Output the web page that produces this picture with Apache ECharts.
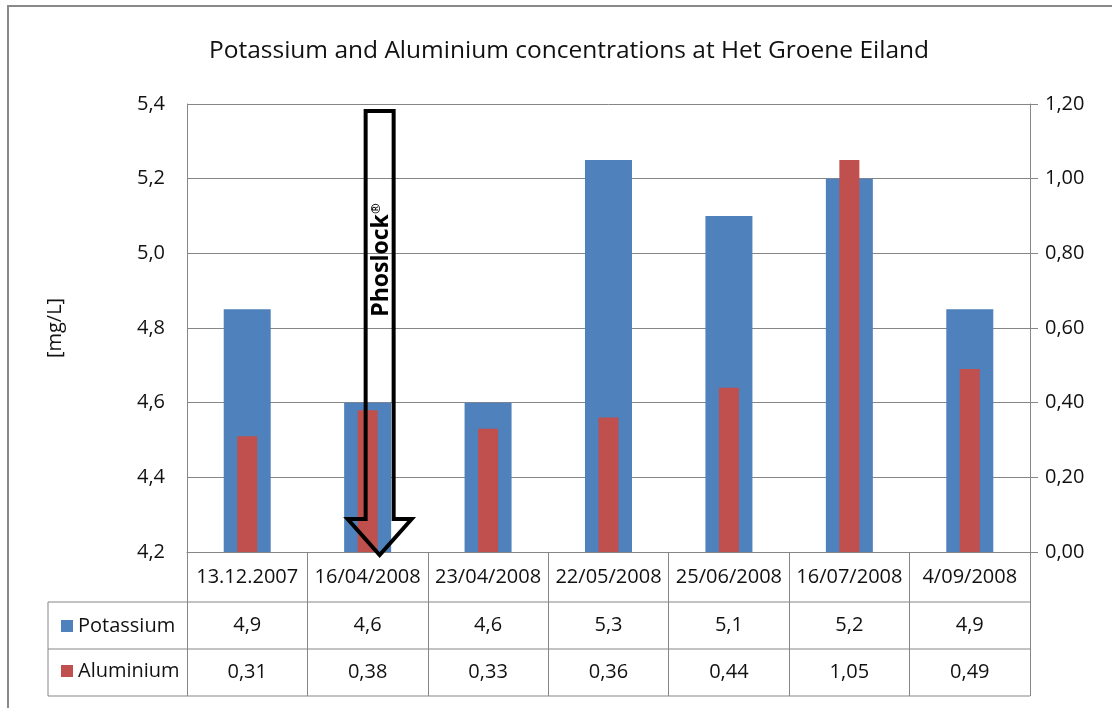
<!DOCTYPE html>
<html>
<head>
<meta charset="utf-8">
<script src="https://cdn.jsdelivr.net/npm/echarts@6/dist/echarts.min.js"></script>
<style>html,body{margin:0;padding:0;background:#fff}#c{width:1112px;height:708px}</style>
</head>
<body>
<div id="c"></div>
<script>
var categories = ['13.12.2007','16/04/2008','23/04/2008','22/05/2008','25/06/2008','16/07/2008','4/09/2008'];
var potassium = [4.85, 4.6, 4.6, 5.25, 5.1, 5.2, 4.85];
var aluminium = [0.31, 0.38, 0.33, 0.36, 0.44, 1.05, 0.49];
var potassiumLabels = ['4,9','4,6','4,6','5,3','5,1','5,2','4,9'];
var aluminiumLabels = ['0,31','0,38','0,33','0,36','0,44','1,05','0,49'];
var leftTicks = {min: 4.2, max: 5.4, interval: 0.2};
var rightTicks = {min: 0, max: 1.2, interval: 0.2};

var FONT = 'Open Sans';
var GRID = '#868686';
var chart = echarts.init(document.getElementById('c'), null, {renderer: 'canvas'});

function rowAxis(labels, margin, show) {
  return {
    type: 'category', gridIndex: 0, position: 'bottom', data: categories,
    axisLine: {show: false}, axisTick: {show: false}, splitLine: {show: false},
    axisLabel: {show: show, interval: 0, margin: margin, fontFamily: FONT, fontSize: 20, color: '#111',
      formatter: function (v, i) { return labels ? labels[i] : v; }}
  };
}

var option = {
  animation: false,
  backgroundColor: '#fff',
  title: {
    text: 'Potassium and Aluminium concentrations at Het Groene Eiland',
    left: 564, top: 34, textAlign: 'center',
    textStyle: {fontFamily: FONT, fontSize: 24.5, fontWeight: 'normal', color: '#111'}
  },
  legend: {
    orient: 'vertical', left: 56, top: 611, itemGap: 25,
    itemWidth: 12, itemHeight: 12, icon: 'rect',
    data: ['Potassium', 'Aluminium'],
    textStyle: {fontFamily: FONT, fontSize: 20, lineHeight: 20, color: '#111'}
  },
  grid: {left: 187, right: 82, top: 104, bottom: 156, containLabel: false},
  xAxis: [
    {
      type: 'category', gridIndex: 0, position: 'bottom', data: categories,
      axisLine: {show: true, lineStyle: {color: GRID, width: 1}},
      axisTick: {show: true, interval: 0, length: 144, lineStyle: {color: GRID, width: 1}},
      axisLabel: {interval: 0, margin: 15, fontFamily: FONT, fontSize: 20, color: '#111'}
    },
    rowAxis(null, 0, false),
    rowAxis(potassiumLabels, 63, true),
    rowAxis(aluminiumLabels, 110, true)
  ],
  yAxis: [
    {
      type: 'value', min: leftTicks.min, max: leftTicks.max, interval: leftTicks.interval,
      name: '[mg/L]', nameLocation: 'middle', nameRotate: 90, nameGap: 122,
      nameTextStyle: {fontFamily: FONT, fontSize: 20, color: '#111'},
      axisLine: {show: true, lineStyle: {color: GRID}},
      axisTick: {show: false},
      splitLine: {show: true, lineStyle: {color: GRID, width: 1}},
      axisLabel: {margin: 22, fontFamily: FONT, fontSize: 20, color: '#111',
        formatter: function (v) { return v.toFixed(1).replace('.', ','); }}
    },
    {
      type: 'value', min: rightTicks.min, max: rightTicks.max, interval: rightTicks.interval,
      position: 'right',
      axisLine: {show: true, lineStyle: {color: GRID}},
      axisTick: {show: true, length: 8, lineStyle: {color: GRID}},
      splitLine: {show: false},
      axisLabel: {margin: 15, fontFamily: FONT, fontSize: 20, color: '#111',
        formatter: function (v) { return v.toFixed(2).replace('.', ','); }}
    }
  ],
  series: [
    {name: 'Potassium', type: 'bar', xAxisIndex: 0, yAxisIndex: 0, data: potassium,
      barWidth: 47, itemStyle: {color: '#4F81BD'}, z: 2},
    {name: 'Aluminium', type: 'bar', xAxisIndex: 1, yAxisIndex: 1, data: aluminium,
      barWidth: 20, itemStyle: {color: '#C0504D'}, z: 3}
  ]
};
chart.setOption(option);

// annotation: Phoslock arrow anchored at the 16/04/2008 category
var cx = chart.convertToPixel({xAxisIndex: 0}, categories[1]) + 12;
var yTop = chart.convertToPixel({yAxisIndex: 0}, 5.4) + 7;
var yBase = chart.convertToPixel({yAxisIndex: 0}, 4.2);
var sw = 14, hw = 32;
var headTop = yBase - 33, tip = yBase + 3;

chart.setOption({
  graphic: [
    {type: 'rect', silent: true, z: 100,
      shape: {x: 8, y: 6, width: 1300, height: 900},
      style: {fill: 'none', stroke: '#898989', lineWidth: 2}},
    {type: 'line', silent: true, z: 10, shape: {x1: 48, y1: 602, x2: 1030, y2: 602}, style: {stroke: GRID, lineWidth: 1}},
    {type: 'line', silent: true, z: 10, shape: {x1: 48, y1: 649, x2: 1030, y2: 649}, style: {stroke: GRID, lineWidth: 1}},
    {type: 'line', silent: true, z: 10, shape: {x1: 48, y1: 696, x2: 1030, y2: 696}, style: {stroke: GRID, lineWidth: 1}},
    {type: 'line', silent: true, z: 10, shape: {x1: 48, y1: 602, x2: 48, y2: 696}, style: {stroke: GRID, lineWidth: 1}},
    {type: 'polygon', silent: true, z: 50,
      shape: {points: [[cx - sw, yTop], [cx + sw, yTop], [cx + sw, headTop], [cx + hw, headTop], [cx, tip],
        [cx - hw, headTop], [cx - sw, headTop]]},
      style: {fill: 'none', stroke: '#000', lineWidth: 4, lineJoin: 'miter'}},
    {type: 'text', silent: true, z: 51, x: cx + 2, y: 260, rotation: Math.PI / 2,
      style: {
        text: '{a|Phoslock}{b|®}', align: 'center', verticalAlign: 'middle',
        rich: {
          a: {fontFamily: FONT, fontSize: 23, fontWeight: 'bold', fill: '#000', verticalAlign: 'bottom'},
          b: {fontFamily: FONT, fontSize: 13, fontWeight: 'bold', fill: '#000', verticalAlign: 'top'}
        }
      }}
  ]
});
</script>
</body>
</html>
